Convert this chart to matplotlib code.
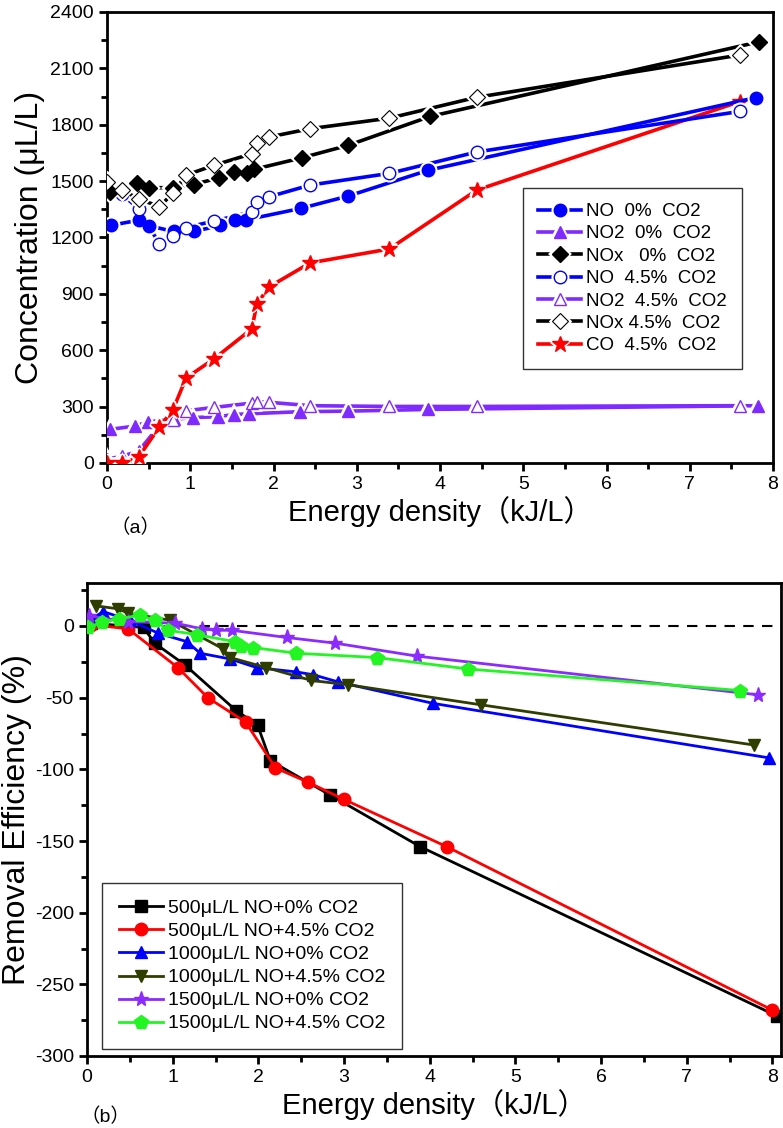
import matplotlib
matplotlib.use('Agg')
import matplotlib.pyplot as plt
from matplotlib.ticker import MultipleLocator
from matplotlib.legend_handler import HandlerTuple

plt.rcParams['font.family'] = ['Liberation Sans', 'Noto Sans CJK SC', 'DejaVu Sans']
plt.rcParams['axes.unicode_minus'] = False

# ---------------- data: panel (a) ----------------
no0_x = [0.05, 0.38, 0.51, 0.80, 1.05, 1.36, 1.54, 1.67, 2.33, 2.90, 3.86, 7.80]
no0_y = [1265, 1292, 1262, 1232, 1232, 1265, 1294, 1294, 1355, 1421, 1558, 1945]
no2_0_x = [0.04, 0.34, 0.49, 0.80, 1.03, 1.33, 1.52, 1.71, 2.32, 2.90, 3.85, 7.82]
no2_0_y = [179, 197, 219, 232, 242, 246, 258, 262, 273, 276, 285, 305]
nox0_x = [0.04, 0.36, 0.51, 0.79, 1.04, 1.35, 1.53, 1.68, 1.76, 2.34, 2.90, 3.88, 7.83]
nox0_y = [1440, 1491, 1465, 1465, 1482, 1518, 1548, 1544, 1562, 1624, 1691, 1844, 2241]
x45 = [0.0, 0.18, 0.38, 0.63, 0.79, 0.95, 1.29, 1.74, 1.80, 1.95, 2.44, 3.39, 4.44, 7.60]
no45_y = [1470, 1429, 1354, 1165, 1209, 1253, 1288, 1336, 1391, 1417, 1479, 1541, 1655, 1871]
no2_45_y = [20, 36, 63, 200, 230, 278, 296, 319, 327, 323, 305, 301, 301, 305]
nox45_y = [1495, 1452, 1406, 1364, 1435, 1532, 1585, 1646, 1703, 1735, 1779, 1835, 1946, 2171]
co45_y = [0, 0, 32, 192, 282, 452, 556, 714, 847, 938, 1065, 1139, 1452, 1923]

labels_a = ["NO  0%  CO2", "NO2  0%  CO2", "NOx   0%  CO2", "NO  4.5%  CO2",
            "NO2  4.5%  CO2", "NOx 4.5%  CO2", "CO  4.5%  CO2"]

# ---------------- data: panel (b) ----------------
b500_0_x = [0.05, 0.66, 0.79, 1.14, 1.74, 1.99, 2.14, 2.84, 3.89, 8.05]
b500_0_y = [2, -1, -12, -27, -59, -69, -94, -118, -154, -272]
b500_45_x = [0.05, 0.48, 1.06, 1.41, 1.85, 2.20, 2.58, 3.00, 4.20, 8.00]
b500_45_y = [1, -2, -29, -50, -67, -99, -109, -121, -154, -268]
b1000_0_x = [0.05, 0.19, 0.50, 0.83, 1.17, 1.32, 1.67, 1.98, 2.44, 2.64, 2.93, 4.04, 7.96]
b1000_0_y = [5, 10, 4, -5, -11, -19, -23, -29, -32, -34, -39, -54, -92]
b1000_45_x = [0.11, 0.36, 0.48, 0.97, 1.59, 1.67, 2.09, 2.62, 3.05, 4.60, 7.78]
b1000_45_y = [14, 12, 9, 4, -16, -22, -29, -38, -41, -55, -83]
b1500_0_x = [0.02, 0.48, 1.03, 1.34, 1.51, 1.69, 2.33, 2.90, 3.85, 7.83]
b1500_0_y = [7, 3, 2, -2, -3, -3, -8, -12, -21, -48]
b1500_45_x = [0.01, 0.17, 0.37, 0.62, 0.79, 0.95, 1.28, 1.73, 1.80, 1.94, 2.44, 3.38, 4.45, 7.62]
b1500_45_y = [-1, 2.5, 5, 7.5, 4, -3, -6, -11, -14, -15, -19, -22, -30, -45]

labels_b = ["500\u03bcL/L NO+0% CO2", "500\u03bcL/L NO+4.5% CO2", "1000\u03bcL/L NO+0% CO2",
            "1000\u03bcL/L NO+4.5% CO2", "1500\u03bcL/L NO+0% CO2", "1500\u03bcL/L NO+4.5% CO2"]

W, H = 783, 1128
fig = plt.figure(figsize=(W / 100, H / 100), dpi=100)


def rect(l, r, t, b):
    return [l / W, 1 - b / H, (r - l) / W, (b - t) / H]


def style_axes(ax):
    for s in ax.spines.values():
        s.set_linewidth(2.0)
    ax.tick_params(which='both', direction='out', width=2, labelsize=14)
    ax.tick_params(which='major', length=6)
    ax.tick_params(which='minor', length=4)


BLUE = '#0000FF'
PURP = '#7F2BFF'
RED = '#FF0000'

# ---------------- panel (a) ----------------
ax1 = fig.add_axes(rect(107, 773, 12, 463))
lw = 2.6
ms = 9
handles_a = {}


def gap_series(ax, x, y, color, marker, msz, mfc, mew, label, z):
    """Line with a small white gap around each symbol (Origin style)."""
    ln, = ax.plot(x, y, '-', color=color, lw=lw, zorder=z)
    halo, = ax.plot(x, y, ls='none', marker=marker, ms=msz, mfc='white', mec='white',
                    mew=mew + 3.0, zorder=z + 0.1)
    mk, = ax.plot(x, y, ls='none', marker=marker, ms=msz, mfc=mfc, mec=color,
                  mew=mew, zorder=z + 0.2)
    handles_a[label] = (ln, halo, mk)


gap_series(ax1, no2_0_x, no2_0_y, PURP, '^', ms, PURP, 1.0, labels_a[1], 3)
gap_series(ax1, x45, no2_45_y, PURP, '^', ms, 'white', 1.0, labels_a[4], 3)
gap_series(ax1, x45, co45_y, RED, '*', ms + 3, RED, 1.0, labels_a[6], 4)
gap_series(ax1, no0_x, no0_y, BLUE, 'o', ms, BLUE, 1.0, labels_a[0], 5)
gap_series(ax1, x45, no45_y, BLUE, 'o', ms, 'white', 1.0, labels_a[3], 5)
gap_series(ax1, nox0_x, nox0_y, 'black', 'D', ms - 0.5, 'black', 1.0, labels_a[2], 6)
gap_series(ax1, x45, nox45_y, 'black', 'D', ms - 0.5, 'white', 0.8, labels_a[5], 6)

ax1.set_xlim(0, 8)
ax1.set_ylim(0, 2400)
ax1.xaxis.set_major_locator(MultipleLocator(1))
ax1.xaxis.set_minor_locator(MultipleLocator(0.5))
ax1.yaxis.set_major_locator(MultipleLocator(300))
ax1.yaxis.set_minor_locator(MultipleLocator(150))
style_axes(ax1)
ax1.set_ylabel('Concentration (\u03bcL/L)', fontsize=23, labelpad=4)
ax1.set_xlabel('Energy density\uff08kJ/L\uff09', fontsize=21, labelpad=2)

leg1 = ax1.legend([handles_a[k] for k in labels_a], labels_a, loc='upper left',
                  handler_map={tuple: HandlerTuple(ndivide=1, pad=0)},
                  bbox_to_anchor=((523 - 107) / 666, (463 - 188) / 451),
                  fontsize=13.5, frameon=True, fancybox=False, framealpha=1,
                  edgecolor='#333333', handlelength=2.3, handletextpad=0.25,
                  labelspacing=0.28, borderpad=0.8, borderaxespad=0)
leg1.get_frame().set_linewidth(1.0)
leg1.set_zorder(10)
fig.text(110 / W, 1 - 528 / H, '\uff08a\uff09', fontsize=14, va='center', ha='left')

# ---------------- panel (b) ----------------
ax2 = fig.add_axes(rect(87, 781, 583, 1056))
lw2 = 2.0
ms2 = 8
ax2.axhline(0, color='black', lw=1.5, ls=(0, (5, 4)), zorder=1)
ax2.plot(b500_0_x, b500_0_y, '-', color='black', lw=lw2, marker='s', ms=ms2, label=labels_b[0], zorder=3)
ax2.plot(b500_45_x, b500_45_y, '-', color=RED, lw=lw2, marker='o', ms=ms2 + 1, label=labels_b[1], zorder=3)
ax2.plot(b1000_0_x, b1000_0_y, '-', color=BLUE, lw=lw2, marker='^', ms=ms2 + 1, label=labels_b[2], zorder=3)
ax2.plot(b1000_45_x, b1000_45_y, '-', color='#2F3D00', lw=lw2, marker='v', ms=ms2 + 1, label=labels_b[3], zorder=3)
ax2.plot(b1500_0_x, b1500_0_y, '-', color='#8B2BFF', lw=lw2, marker='*', ms=ms2 + 3, label=labels_b[4], zorder=3)
ax2.plot(b1500_45_x, b1500_45_y, '-', color='#22F522', lw=lw2, marker='p', ms=ms2 + 2, label=labels_b[5], zorder=3)

ax2.set_xlim(0, 8.1)
ax2.set_ylim(-300, 30)
ax2.xaxis.set_major_locator(MultipleLocator(1))
ax2.xaxis.set_minor_locator(MultipleLocator(0.5))
ax2.yaxis.set_major_locator(MultipleLocator(50))
ax2.yaxis.set_minor_locator(MultipleLocator(25))
style_axes(ax2)
ax2.set_ylabel('Removal Efficiency (%)', fontsize=23, labelpad=2)
ax2.set_xlabel('Energy density\uff08kJ/L\uff09', fontsize=21, labelpad=2)

leg2 = ax2.legend(loc='upper left', bbox_to_anchor=((102 - 87) / 694, (1056 - 883) / 473),
                  fontsize=14, frameon=True, fancybox=False, framealpha=1,
                  edgecolor='#333333', handlelength=2.3, handletextpad=0.25,
                  labelspacing=0.28, borderpad=0.85, borderaxespad=0)
leg2.get_frame().set_linewidth(1.0)
fig.text(80 / W, 1 - 1117 / H, '\uff08b\uff09', fontsize=14, va='center', ha='left')

fig.savefig('out.png', dpi=100)
